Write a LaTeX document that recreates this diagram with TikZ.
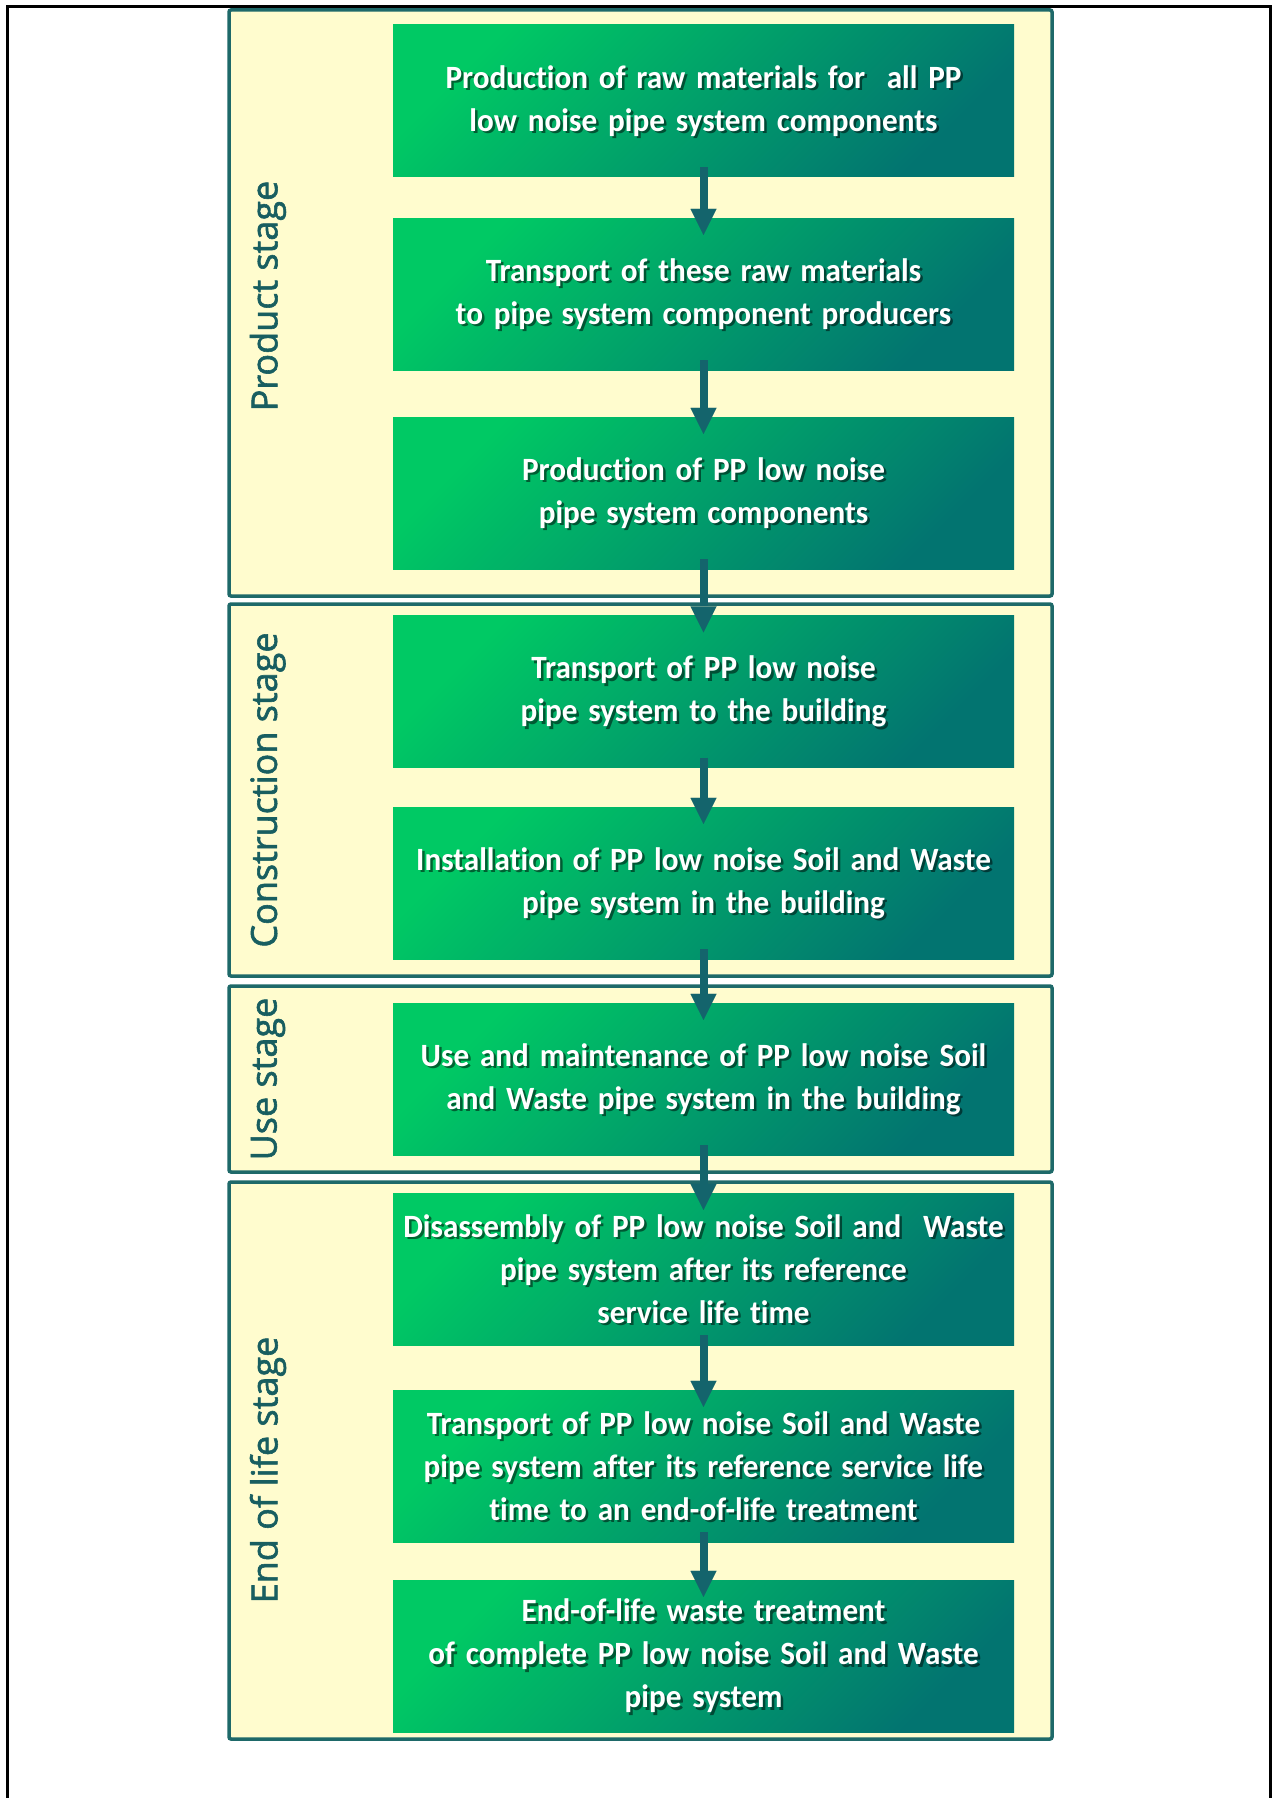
\documentclass[tikz,border=0pt]{standalone}
\usepackage{fontspec}
\setmainfont{Carlito}[Ligatures=NoCommon, WordSpace=0.6, FakeStretch=0.96]
\newfontfamily\stagefont{Open Sans}[FakeBold=1.6]
\usetikzlibrary{arrows.meta}

\definecolor{framefill}{RGB}{255,252,206}
\definecolor{framedraw}{RGB}{30,105,105}
\definecolor{boxlight}{RGB}{0,201,100}
\definecolor{boxdark}{RGB}{2,116,112}
\definecolor{arrowcol}{RGB}{20,100,108}
\definecolor{labelcol}{RGB}{24,94,96}

\begin{document}
\begin{tikzpicture}[x=1pt,y=-1pt,
  stageframe/.style={draw=framedraw, line width=3.5pt, fill=framefill,
    rounded corners=2pt, minimum width=823pt, inner sep=0pt},
  stepbox/.style={rectangle, minimum width=621pt, minimum height=152pt,
    inner sep=0pt, top color=boxlight, bottom color=boxdark, shading angle=45},
  steptext/.style={inner sep=0pt, text width=640pt, align=center,
    text=white, font=\bfseries\fontsize{32.5}{43}\selectfont},
  stepshadow/.style={steptext, text=black, text opacity=0.5},
  stagelabel/.style={rotate=90, text=labelcol, inner sep=0pt,
    font=\stagefont\fontsize{36}{44}\selectfont},
  flowarrow/.style={draw=arrowcol, line width=8pt,
    -{Triangle[width=26pt,length=26pt,line width=0.01pt]}},
  outerline/.style={draw=black, line width=3pt}
]
\useasboundingbox (0,0) rectangle (1274,1798);
\fill[white] (0,0) rectangle (1274,1798);

% outer frame, open at the foot of the page
\draw[outerline] (7,1810) -- (7,7) -- (1270,7) -- (1270,1810);

% life-cycle stage frames
\node[stageframe, minimum height=586pt] (f1) at (640.5,303) {};
\node[stageframe, minimum height=372pt] (f2) at (640.5,790) {};
\node[stageframe, minimum height=186pt] (f3) at (640.5,1079) {};
\node[stageframe, minimum height=557pt] (f4) at (640.5,1460.5) {};

% stage captions
\node[stagelabel] (l1) at (268,296) {Product stage};
\node[stagelabel] (l2) at (268,790) {Construction stage};
\node[stagelabel] (l3) at (268,1079) {Use stage};
\node[stagelabel] (l4) at (268,1470) {End of life stage};

% process steps
\node[stepbox] (b1) at (703.5,101) {};
\node[stepbox] (b2) at (703.5,294) {};
\node[stepbox] (b3) at (703.5,493) {};
\node[stepbox] (b4) at (703.5,691.5) {};
\node[stepbox] (b5) at (703.5,883) {};
\node[stepbox] (b6) at (703.5,1079) {};
\node[stepbox] (b7) at (703.5,1269) {};
\node[stepbox] (b8) at (703.5,1466) {};
\node[stepbox] (b9) at (703.5,1656) {};

% flow arrows
\draw[flowarrow] ([yshift=10pt]b1.south) -- ([yshift=-17pt]b2.north);
\draw[flowarrow] ([yshift=10pt]b2.south) -- ([yshift=-17pt]b3.north);
\draw[flowarrow] ([yshift=10pt]b3.south) -- ([yshift=-17pt]b4.north);
\draw[flowarrow] ([yshift=10pt]b4.south) -- ([yshift=-17pt]b5.north);
\draw[flowarrow] ([yshift=10pt]b5.south) -- ([yshift=-17pt]b6.north);
\draw[flowarrow] ([yshift=10pt]b6.south) -- ([yshift=-17pt]b7.north);
\draw[flowarrow] ([yshift=10pt]b7.south) -- ([yshift=-17pt]b8.north);
\draw[flowarrow] ([yshift=10pt]b8.south) -- ([yshift=-17pt]b9.north);

% step texts with a soft drop shadow
\foreach \b/\t in {
  b1/{Production of raw materials for~ all PP\\low noise pipe system components},
  b2/{Transport of these raw materials\\to pipe system component producers},
  b3/{Production of PP low noise\\pipe system components},
  b4/{Transport of PP low noise\\pipe system to the building},
  b5/{Installation of PP low noise Soil and Waste\\pipe system in the building},
  b6/{Use and maintenance of PP low noise Soil\\and Waste pipe system in the building},
  b7/{Disassembly of PP low noise Soil and~ Waste\\pipe system after its reference\\service life time},
  b8/{Transport of PP low noise Soil and Waste\\pipe system after its reference service life\\time to an end-of-life treatment},
  b9/{End-of-life waste treatment\\of complete PP low noise Soil and Waste\\pipe system}}{
  \node[stepshadow] (\b s) at ([shift={(2.5pt,-2.5pt)}]\b.center) {\t};
  \node[steptext] (\b t) at (\b.center) {\t};
}
\end{tikzpicture}
\end{document}
